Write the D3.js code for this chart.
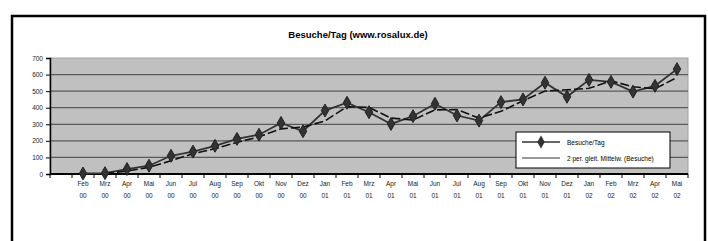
<!DOCTYPE html>
<html>
<head>
<meta charset="utf-8">
<script src="https://cdn.jsdelivr.net/npm/d3@7"></script>
<style>
  body { margin: 0; background: #fff; }
  svg { font-family: 'Liberation Sans', Arial, sans-serif; }
</style>
</head>
<body>
<div id="chart"></div>
<script>
const months = ['', 'Feb', 'Mrz', 'Apr', 'Mai', 'Jun', 'Jul', 'Aug', 'Sep', 'Okt', 'Nov', 'Dez',
  'Jan', 'Feb', 'Mrz', 'Apr', 'Mai', 'Jun', 'Jul', 'Aug', 'Sep', 'Okt', 'Nov', 'Dez',
  'Jan', 'Feb', 'Mrz', 'Apr', 'Mai']
const years = ['', '00', '00', '00', '00', '00', '00', '00', '00', '00', '00', '00',
  '01', '01', '01', '01', '01', '01', '01', '01', '01', '01', '01', '01',
  '02', '02', '02', '02', '02']
const visits = [null, 3, 5, 30, 50, 110, 135, 170, 212, 237, 308, 258,
  383, 430, 373, 302, 349, 424, 353, 322, 434, 450, 551, 466,
  568, 556, 497, 532, 633]
const yTicks = [0, 100, 200, 300, 400, 500, 600, 700]

const width = 708
const height = 241
const margin = { top: 58, left: 50, right: 20, bottom: 67 }

const svg = d3
  .select('#chart')
  .append('svg')
  .attr('width', width)
  .attr('height', height)

// outer frame
svg
  .append('rect')
  .attr('x', 12)
  .attr('y', 16)
  .attr('width', 693)
  .attr('height', 240)
  .attr('fill', 'none')
  .attr('stroke', '#000')
  .attr('stroke-width', 2.5)

svg
  .append('text')
  .attr('x', 358)
  .attr('y', 38)
  .attr('text-anchor', 'middle')
  .attr('font-size', 9.5)
  .attr('font-weight', 700)
  .text('Besuche/Tag (www.rosalux.de)')

const keys = months.map((m, i) => i)

const xScale = d3
  .scaleBand()
  .domain(keys)
  .range([margin.left, width - margin.right])

const yScale = d3
  .scaleLinear()
  .domain([0, 700])
  .range([height - margin.bottom, margin.top])

// plot area
svg
  .append('rect')
  .attr('x', margin.left)
  .attr('y', margin.top)
  .attr('width', width - margin.left - margin.right)
  .attr('height', height - margin.top - margin.bottom)
  .attr('fill', '#c0c0c0')
  .attr('stroke', '#a0a0a0')

svg
  .selectAll('.grid')
  .data(yTicks.filter(d => d > 0 && d < 700))
  .enter()
  .append('line')
  .attr('class', 'grid')
  .attr('x1', margin.left)
  .attr('x2', width - margin.right)
  .attr('y1', d => yScale(d))
  .attr('y2', d => yScale(d))
  .attr('stroke', '#5a5a5a')
  .attr('stroke-width', 1.3)

// y axis
const yAxis = d3.axisLeft(yScale).tickValues(yTicks).tickSize(4).tickPadding(3)
const yG = svg
  .append('g')
  .attr('transform', 'translate(' + margin.left + ',0)')
  .call(yAxis)
yG.select('.domain').attr('stroke', '#000').attr('stroke-width', 1.5)
yG.selectAll('.tick line').attr('stroke', '#000')
yG.selectAll('text').attr('font-size', 6.5).attr('fill', '#222')

// x axis with ticks between categories
svg
  .append('line')
  .attr('x1', margin.left)
  .attr('x2', width - margin.right)
  .attr('y1', yScale(0))
  .attr('y2', yScale(0))
  .attr('stroke', '#000')
  .attr('stroke-width', 1.8)

svg
  .selectAll('.xtick')
  .data(keys.concat([keys.length]))
  .enter()
  .append('line')
  .attr('class', 'xtick')
  .attr('x1', d => margin.left + d * xScale.bandwidth())
  .attr('x2', d => margin.left + d * xScale.bandwidth())
  .attr('y1', yScale(0))
  .attr('y2', yScale(0) + 4)
  .attr('stroke', '#000')

svg
  .selectAll('.month')
  .data(keys)
  .enter()
  .append('text')
  .attr('class', 'month')
  .attr('x', d => xScale(d) + xScale.bandwidth() / 2)
  .attr('y', 186)
  .attr('text-anchor', 'middle')
  .attr('font-size', 6.5)
  .attr('fill', '#222')
  .text(d => months[d])

svg
  .selectAll('.year')
  .data(keys)
  .enter()
  .append('text')
  .attr('class', 'year')
  .attr('x', d => xScale(d) + xScale.bandwidth() / 2)
  .attr('y', 198)
  .attr('text-anchor', 'middle')
  .attr('font-size', 6.5)
  .attr('fill', '#222')
  .text(d => years[d])

// series
const points = keys
  .filter(i => visits[i] !== null)
  .map(i => ({ i: i, v: visits[i] }))

const line = d3
  .line()
  .x(d => xScale(d.i) + xScale.bandwidth() / 2)
  .y(d => yScale(d.v))

// 2 period moving average trendline
const avg = points.slice(1).map((d, k) => ({ i: d.i, v: (d.v + points[k].v) / 2 }))

svg
  .append('path')
  .datum(points)
  .attr('d', line)
  .attr('fill', 'none')
  .attr('stroke', '#333')
  .attr('stroke-width', 1.8)

svg
  .append('path')
  .datum(avg)
  .attr('d', line)
  .attr('fill', 'none')
  .attr('stroke', '#111')
  .attr('stroke-width', 1.6)
  .attr('stroke-dasharray', '9,3')

const diamond = d3.symbol().type(d3.symbolDiamond).size(48)

svg
  .selectAll('.marker')
  .data(points)
  .enter()
  .append('path')
  .attr('class', 'marker')
  .attr('d', diamond)
  .attr('transform', d => 'translate(' + (xScale(d.i) + xScale.bandwidth() / 2) + ',' + yScale(d.v) + ')')
  .attr('fill', '#333')
  .attr('stroke', '#222')

// legend
const legend = svg.append('g').attr('transform', 'translate(516,132)')

legend
  .append('rect')
  .attr('width', 154)
  .attr('height', 36)
  .attr('fill', '#fff')
  .attr('stroke', '#000')

legend
  .append('line')
  .attr('x1', 6)
  .attr('x2', 44)
  .attr('y1', 10)
  .attr('y2', 10)
  .attr('stroke', '#333')
  .attr('stroke-width', 1.5)

legend
  .append('path')
  .attr('d', diamond)
  .attr('transform', 'translate(25,10)')
  .attr('fill', '#333')

legend
  .append('text')
  .attr('x', 51)
  .attr('y', 12.5)
  .attr('font-size', 6.5)
  .text('Besuche/Tag')

legend
  .append('line')
  .attr('x1', 6)
  .attr('x2', 44)
  .attr('y1', 26)
  .attr('y2', 26)
  .attr('stroke', '#333')
  .attr('stroke-width', 1)

legend
  .append('text')
  .attr('x', 51)
  .attr('y', 28.5)
  .attr('font-size', 6.5)
  .text('2 per. gleit. Mittelw. (Besuche)')
</script>
</body>
</html>
